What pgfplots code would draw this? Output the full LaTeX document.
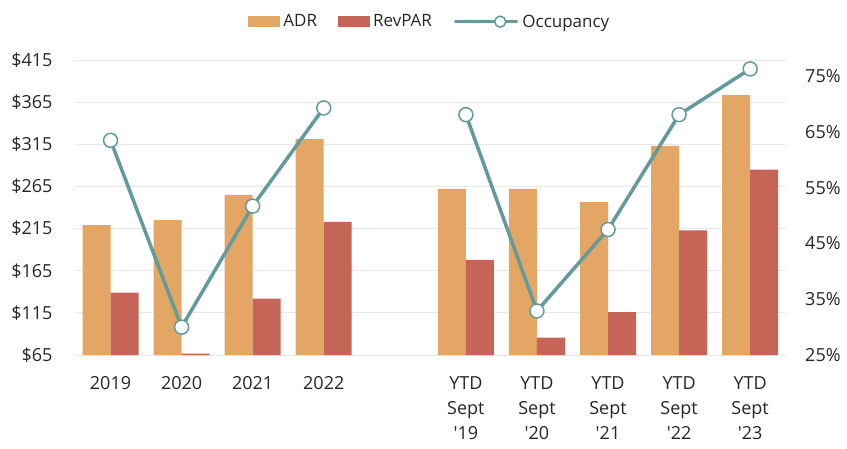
\documentclass[border=0pt]{standalone}
\usepackage{fontspec}
\setmainfont{Open Sans}[Ligatures=TeXOff]
\usepackage{pgfplots}
\pgfplotsset{compat=1.18}
\definecolor{adr}{RGB}{228,166,100}
\definecolor{rev}{RGB}{196,101,88}
\definecolor{occ}{RGB}{100,154,154}
\definecolor{gridc}{RGB}{232,232,237}
\definecolor{txt}{RGB}{38,38,38}
\pgfplotsset{
  occlegend/.style={legend image code/.code={\draw[##1, mark repeat=2, mark phase=2] plot coordinates {(0pt,0pt) (17.5pt,0pt) (35pt,0pt)};}},
  barlegend/.style={legend image code/.code={\fill[##1] (0pt,-5.5pt) rectangle (32pt,5.5pt);}},
  common/.style={
    scale only axis, width=710.7pt, height=295pt,
    at={(0,0)}, anchor=south west,
    xmin=-0.5, xmax=9.5,
    axis line style={draw=none},
    major tick length=0pt,
    tick label style={font=\fontsize{18}{25}\selectfont, text=txt},
    /pgf/number format/assume math mode=true,
  }
}
\begin{document}
\begin{tikzpicture}
\begin{axis}[common,
  ymin=65, ymax=415,
  ytick={65,115,165,215,265,315,365,415},
  yticklabels={\$65,\$115,\$165,\$215,\$265,\$315,\$365,\$415},
  ymajorgrids, grid style={gridc, line width=1pt},
  xtick={0,1,2,3,5,6,7,8,9},
  xticklabels={2019,2020,2021,2022,YTD\\Sept\\'19,YTD\\Sept\\'20,YTD\\Sept\\'21,YTD\\Sept\\'22,YTD\\Sept\\'23},
  x tick label style={align=center, yshift=-18pt, anchor=north},
  y tick label style={xshift=-19pt},
  ybar=0pt, bar width=28pt,
  legend style={at={(0.5,1.13)}, anchor=center, draw=none, fill=none,
    legend columns=3, font=\fontsize{17}{20}\selectfont, text=txt,
    /tikz/every even column/.append style={column sep=18pt},
    nodes={inner xsep=3pt}},
]
\addplot[fill=adr, draw=none, barlegend] coordinates {(0,219) (1,225) (2,255) (3,321) (5,262) (6,262) (7,246.5) (8,313) (9,373.5)};
\addlegendentry{ADR}
\addplot[fill=rev, draw=none, barlegend] coordinates {(0,139) (1,66.5) (2,132) (3,223) (5,178) (6,85.6) (7,116) (8,213) (9,285)};
\addlegendentry{RevPAR}
\addlegendimage{occlegend, occ, line width=3.5pt, mark=*, mark size=5.5pt, mark options={fill=white, draw=occ, line width=1.5pt}}
\addlegendentry{Occupancy}
\end{axis}
\begin{axis}[common,
  axis y line*=right, axis x line=none,
  ymin=25, ymax=77.9,
  ytick={25,35,45,55,65,75},
  yticklabels={25\%,35\%,45\%,55\%,65\%,75\%},
  y tick label style={xshift=16pt},
]
\addplot[occ, line width=3.5pt, mark=*, mark size=7pt, mark options={fill=white, draw=occ, line width=1.5pt}]
  coordinates {(0,63.5) (1,30) (2,51.7) (3,69.3)};
\addplot[occ, line width=3.5pt, mark=*, mark size=7pt, mark options={fill=white, draw=occ, line width=1.5pt}]
  coordinates {(5,68.1) (6,32.9) (7,47.5) (8,68.1) (9,76.3)};
\end{axis}
\pgfresetboundingbox
\path[use as bounding box] (-75pt,-93pt) rectangle (772pt,355pt);
\end{tikzpicture}
\end{document}
